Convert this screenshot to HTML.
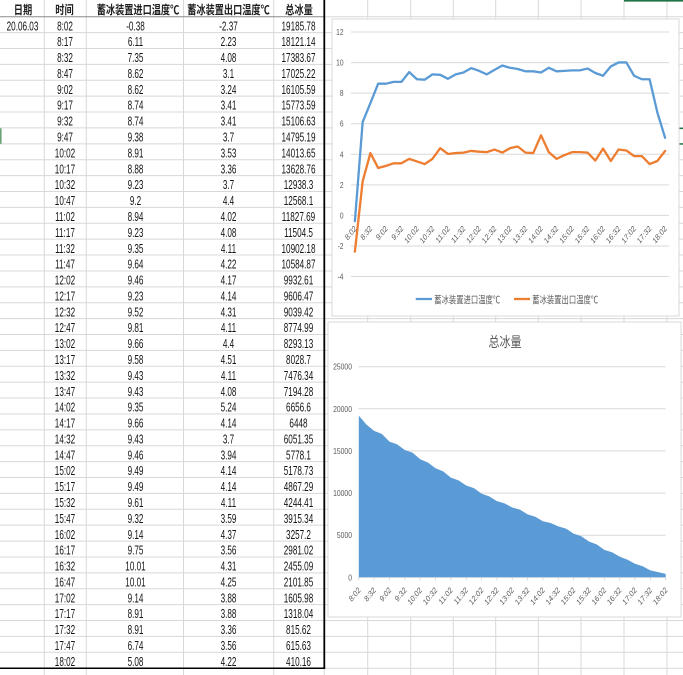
<!DOCTYPE html>
<html><head><meta charset="utf-8"><style>
html,body{margin:0;padding:0;background:#fff;}
svg{display:block;}
.t{font-family:"Liberation Sans","Noto Sans CJK SC",sans-serif;font-size:12.5px;fill:#141414;}
.h{font-family:"Liberation Sans","Noto Sans CJK SC",sans-serif;font-size:12px;font-weight:700;fill:#1e1e1e;}
.ax{font-family:"Liberation Sans",sans-serif;font-size:8.5px;fill:#595959;}
.xl{font-family:"Liberation Sans",sans-serif;font-size:8.5px;fill:#595959;}
.lg{font-family:"Liberation Sans","Noto Sans CJK SC",sans-serif;font-size:10px;fill:#595959;}
.ti{font-family:"Liberation Sans","Noto Sans CJK SC",sans-serif;font-size:14.5px;fill:#595959;}
</style></head><body>
<svg width="683" height="675" viewBox="0 0 683 675" xmlns="http://www.w3.org/2000/svg">
<rect width="683" height="675" fill="#fff"/>
<g stroke="#d8d8d8" stroke-width="1" fill="none">
<path d="M0 32.59H683M0 48.48H683M0 64.37H683M0 80.26H683M0 96.15H683M0 112.04H683M0 127.93H683M0 143.82H683M0 159.71H683M0 175.6H683M0 191.49H683M0 207.38H683M0 223.27H683M0 239.16H683M0 255.05H683M0 270.94H683M0 286.83H683M0 302.72H683M0 318.61H683M0 334.5H683M0 350.39H683M0 366.28H683M0 382.17H683M0 398.06H683M0 413.95H683M0 429.84H683M0 445.73H683M0 461.62H683M0 477.51H683M0 493.4H683M0 509.29H683M0 525.18H683M0 541.07H683M0 556.96H683M0 572.85H683M0 588.74H683M0 604.63H683M0 620.52H683M0 636.41H683M0 652.3H683M324 668.19H683M324 16.7H683"/>
<path d="M44.3 0V675M86.3 0V675M183.5 0V675M273.7 0V675M324.3 669V675M367.7 0V675M410.7 0V675M453.3 0V675M495.7 0V675M538.3 0V675M581 0V675M624 0V675M667 0V675"/>
</g>
<path d="M0 16.7H324" stroke="#8a8a8a" stroke-width="1"/>
<path d="M324.3 0V669" stroke="#000" stroke-width="1.8"/>
<path d="M0 668.3H325" stroke="#000" stroke-width="1.5"/>
<rect x="0" y="128.3" width="1.6" height="15.5" fill="#6aa57a"/>
<rect x="624" y="0" width="59" height="1.6" fill="#217346"/>
<rect x="679" y="127.6" width="4" height="1.5" fill="#217346"/>
<rect x="679" y="143.2" width="4" height="1.5" fill="#217346"/>

<g class="h" text-anchor="middle">
<text transform="translate(23,14) scale(0.77,1)">日期</text>
<text transform="translate(64.5,14) scale(0.77,1)">时间</text>
<text transform="translate(138,14) scale(0.765,1)">蓄冰装置进口温度℃</text>
<text transform="translate(228.5,14) scale(0.765,1)">蓄冰装置出口温度℃</text>
<text transform="translate(299,14) scale(0.77,1)">总冰量</text>
</g>

<text class="t" text-anchor="middle" transform="translate(22.5,0) scale(0.652,1)"><tspan x="0" y="30.3">20.06.03</tspan></text>
<text class="t" text-anchor="middle" transform="translate(65,0) scale(0.652,1)"><tspan x="0" y="30.3">8:02</tspan><tspan x="0" y="46.2">8:17</tspan><tspan x="0" y="62.1">8:32</tspan><tspan x="0" y="78">8:47</tspan><tspan x="0" y="93.9">9:02</tspan><tspan x="0" y="109.7">9:17</tspan><tspan x="0" y="125.6">9:32</tspan><tspan x="0" y="141.5">9:47</tspan><tspan x="0" y="157.4">10:02</tspan><tspan x="0" y="173.3">10:17</tspan><tspan x="0" y="189.2">10:32</tspan><tspan x="0" y="205.1">10:47</tspan><tspan x="0" y="221">11:02</tspan><tspan x="0" y="236.9">11:17</tspan><tspan x="0" y="252.8">11:32</tspan><tspan x="0" y="268.6">11:47</tspan><tspan x="0" y="284.5">12:02</tspan><tspan x="0" y="300.4">12:17</tspan><tspan x="0" y="316.3">12:32</tspan><tspan x="0" y="332.2">12:47</tspan><tspan x="0" y="348.1">13:02</tspan><tspan x="0" y="364">13:17</tspan><tspan x="0" y="379.9">13:32</tspan><tspan x="0" y="395.8">13:47</tspan><tspan x="0" y="411.7">14:02</tspan><tspan x="0" y="427.5">14:17</tspan><tspan x="0" y="443.4">14:32</tspan><tspan x="0" y="459.3">14:47</tspan><tspan x="0" y="475.2">15:02</tspan><tspan x="0" y="491.1">15:17</tspan><tspan x="0" y="507">15:32</tspan><tspan x="0" y="522.9">15:47</tspan><tspan x="0" y="538.8">16:02</tspan><tspan x="0" y="554.7">16:17</tspan><tspan x="0" y="570.6">16:32</tspan><tspan x="0" y="586.4">16:47</tspan><tspan x="0" y="602.3">17:02</tspan><tspan x="0" y="618.2">17:17</tspan><tspan x="0" y="634.1">17:32</tspan><tspan x="0" y="650">17:47</tspan><tspan x="0" y="665.9">18:02</tspan></text>
<text class="t" text-anchor="middle" transform="translate(135.5,0) scale(0.652,1)"><tspan x="0" y="30.3">-0.38</tspan><tspan x="0" y="46.2">6.11</tspan><tspan x="0" y="62.1">7.35</tspan><tspan x="0" y="78">8.62</tspan><tspan x="0" y="93.9">8.62</tspan><tspan x="0" y="109.7">8.74</tspan><tspan x="0" y="125.6">8.74</tspan><tspan x="0" y="141.5">9.38</tspan><tspan x="0" y="157.4">8.91</tspan><tspan x="0" y="173.3">8.88</tspan><tspan x="0" y="189.2">9.23</tspan><tspan x="0" y="205.1">9.2</tspan><tspan x="0" y="221">8.94</tspan><tspan x="0" y="236.9">9.23</tspan><tspan x="0" y="252.8">9.35</tspan><tspan x="0" y="268.6">9.64</tspan><tspan x="0" y="284.5">9.46</tspan><tspan x="0" y="300.4">9.23</tspan><tspan x="0" y="316.3">9.52</tspan><tspan x="0" y="332.2">9.81</tspan><tspan x="0" y="348.1">9.66</tspan><tspan x="0" y="364">9.58</tspan><tspan x="0" y="379.9">9.43</tspan><tspan x="0" y="395.8">9.43</tspan><tspan x="0" y="411.7">9.35</tspan><tspan x="0" y="427.5">9.66</tspan><tspan x="0" y="443.4">9.43</tspan><tspan x="0" y="459.3">9.46</tspan><tspan x="0" y="475.2">9.49</tspan><tspan x="0" y="491.1">9.49</tspan><tspan x="0" y="507">9.61</tspan><tspan x="0" y="522.9">9.32</tspan><tspan x="0" y="538.8">9.14</tspan><tspan x="0" y="554.7">9.75</tspan><tspan x="0" y="570.6">10.01</tspan><tspan x="0" y="586.4">10.01</tspan><tspan x="0" y="602.3">9.14</tspan><tspan x="0" y="618.2">8.91</tspan><tspan x="0" y="634.1">8.91</tspan><tspan x="0" y="650">6.74</tspan><tspan x="0" y="665.9">5.08</tspan></text>
<text class="t" text-anchor="middle" transform="translate(228.5,0) scale(0.652,1)"><tspan x="0" y="30.3">-2.37</tspan><tspan x="0" y="46.2">2.23</tspan><tspan x="0" y="62.1">4.08</tspan><tspan x="0" y="78">3.1</tspan><tspan x="0" y="93.9">3.24</tspan><tspan x="0" y="109.7">3.41</tspan><tspan x="0" y="125.6">3.41</tspan><tspan x="0" y="141.5">3.7</tspan><tspan x="0" y="157.4">3.53</tspan><tspan x="0" y="173.3">3.36</tspan><tspan x="0" y="189.2">3.7</tspan><tspan x="0" y="205.1">4.4</tspan><tspan x="0" y="221">4.02</tspan><tspan x="0" y="236.9">4.08</tspan><tspan x="0" y="252.8">4.11</tspan><tspan x="0" y="268.6">4.22</tspan><tspan x="0" y="284.5">4.17</tspan><tspan x="0" y="300.4">4.14</tspan><tspan x="0" y="316.3">4.31</tspan><tspan x="0" y="332.2">4.11</tspan><tspan x="0" y="348.1">4.4</tspan><tspan x="0" y="364">4.51</tspan><tspan x="0" y="379.9">4.11</tspan><tspan x="0" y="395.8">4.08</tspan><tspan x="0" y="411.7">5.24</tspan><tspan x="0" y="427.5">4.14</tspan><tspan x="0" y="443.4">3.7</tspan><tspan x="0" y="459.3">3.94</tspan><tspan x="0" y="475.2">4.14</tspan><tspan x="0" y="491.1">4.14</tspan><tspan x="0" y="507">4.11</tspan><tspan x="0" y="522.9">3.59</tspan><tspan x="0" y="538.8">4.37</tspan><tspan x="0" y="554.7">3.56</tspan><tspan x="0" y="570.6">4.31</tspan><tspan x="0" y="586.4">4.25</tspan><tspan x="0" y="602.3">3.88</tspan><tspan x="0" y="618.2">3.88</tspan><tspan x="0" y="634.1">3.36</tspan><tspan x="0" y="650">3.56</tspan><tspan x="0" y="665.9">4.22</tspan></text>
<text class="t" text-anchor="middle" transform="translate(298.5,0) scale(0.652,1)"><tspan x="0" y="30.3">19185.78</tspan><tspan x="0" y="46.2">18121.14</tspan><tspan x="0" y="62.1">17383.67</tspan><tspan x="0" y="78">17025.22</tspan><tspan x="0" y="93.9">16105.59</tspan><tspan x="0" y="109.7">15773.59</tspan><tspan x="0" y="125.6">15106.63</tspan><tspan x="0" y="141.5">14795.19</tspan><tspan x="0" y="157.4">14013.65</tspan><tspan x="0" y="173.3">13628.76</tspan><tspan x="0" y="189.2">12938.3</tspan><tspan x="0" y="205.1">12568.1</tspan><tspan x="0" y="221">11827.69</tspan><tspan x="0" y="236.9">11504.5</tspan><tspan x="0" y="252.8">10902.18</tspan><tspan x="0" y="268.6">10584.87</tspan><tspan x="0" y="284.5">9932.61</tspan><tspan x="0" y="300.4">9606.47</tspan><tspan x="0" y="316.3">9039.42</tspan><tspan x="0" y="332.2">8774.99</tspan><tspan x="0" y="348.1">8293.13</tspan><tspan x="0" y="364">8028.7</tspan><tspan x="0" y="379.9">7476.34</tspan><tspan x="0" y="395.8">7194.28</tspan><tspan x="0" y="411.7">6656.6</tspan><tspan x="0" y="427.5">6448</tspan><tspan x="0" y="443.4">6051.35</tspan><tspan x="0" y="459.3">5778.1</tspan><tspan x="0" y="475.2">5178.73</tspan><tspan x="0" y="491.1">4867.29</tspan><tspan x="0" y="507">4244.41</tspan><tspan x="0" y="522.9">3915.34</tspan><tspan x="0" y="538.8">3257.2</tspan><tspan x="0" y="554.7">2981.02</tspan><tspan x="0" y="570.6">2455.09</tspan><tspan x="0" y="586.4">2101.85</tspan><tspan x="0" y="602.3">1605.98</tspan><tspan x="0" y="618.2">1318.04</tspan><tspan x="0" y="634.1">815.62</tspan><tspan x="0" y="650">615.63</tspan><tspan x="0" y="665.9">410.16</tspan></text>

<!-- Chart 1 -->
<rect x="332" y="19" width="347" height="297" fill="#fff" stroke="#d9d9d9" stroke-width="1"/>
<g stroke="#d9d9d9" stroke-width="1">
<path d="M351 32.04H669M351 62.6H669M351 93.16H669M351 123.72H669M351 154.28H669M351 184.84H669M351 215.4H669M351 245.96H669M351 276.52H669"/>
</g>
<text class="ax" text-anchor="end" transform="translate(343.5,0) scale(0.78,1)"><tspan x="0" y="35">12</tspan><tspan x="0" y="65.6">10</tspan><tspan x="0" y="96.2">8</tspan><tspan x="0" y="126.7">6</tspan><tspan x="0" y="157.3">4</tspan><tspan x="0" y="187.8">2</tspan><tspan x="0" y="218.4">0</tspan><tspan x="0" y="249">-2</tspan><tspan x="0" y="279.5">-4</tspan></text>
<polyline fill="none" stroke="#5B9BD5" stroke-width="2.3" stroke-linejoin="round" stroke-linecap="round" points="354.9,221.21 362.66,122.04 370.41,103.09 378.17,83.69 385.92,83.69 393.68,81.85 401.43,81.85 409.19,72.07 416.94,79.26 424.7,79.71 432.45,74.37 440.21,74.82 447.96,78.8 455.72,74.37 463.47,72.53 471.23,68.1 478.98,70.85 486.74,74.37 494.49,69.93 502.25,65.5 510,67.8 517.76,69.02 525.51,71.31 533.27,71.31 541.02,72.53 548.78,67.8 556.53,71.31 564.29,70.85 572.04,70.39 579.8,70.39 587.55,68.56 595.31,72.99 603.06,75.74 610.82,66.42 618.57,62.45 626.33,62.45 634.08,75.74 641.84,79.26 649.59,79.26 657.35,112.41 665.1,137.78"/>
<polyline fill="none" stroke="#ED7D31" stroke-width="2.3" stroke-linejoin="round" stroke-linecap="round" points="354.9,251.61 362.66,181.33 370.41,153.06 378.17,168.03 385.92,165.89 393.68,163.3 401.43,163.3 409.19,158.86 416.94,161.46 424.7,164.06 432.45,158.86 440.21,148.17 447.96,153.97 455.72,153.06 463.47,152.6 471.23,150.92 478.98,151.68 486.74,152.14 494.49,149.54 502.25,152.6 510,148.17 517.76,146.49 525.51,152.6 533.27,153.06 541.02,135.33 548.78,152.14 556.53,158.86 564.29,155.2 572.04,152.14 579.8,152.14 587.55,152.6 595.31,160.54 603.06,148.63 610.82,161 618.57,149.54 626.33,150.46 634.08,156.11 641.84,156.11 649.59,164.06 657.35,161 665.1,150.92"/>
<g class="xl" text-anchor="end">
<text transform="translate(355.4,227) scale(0.8,1) rotate(-45)" dy="0.35em">8:02</text>
<text transform="translate(370.91,227) scale(0.8,1) rotate(-45)" dy="0.35em">8:32</text>
<text transform="translate(386.42,227) scale(0.8,1) rotate(-45)" dy="0.35em">9:02</text>
<text transform="translate(401.93,227) scale(0.8,1) rotate(-45)" dy="0.35em">9:32</text>
<text transform="translate(417.44,227) scale(0.8,1) rotate(-45)" dy="0.35em">10:02</text>
<text transform="translate(432.95,227) scale(0.8,1) rotate(-45)" dy="0.35em">10:32</text>
<text transform="translate(448.46,227) scale(0.8,1) rotate(-45)" dy="0.35em">11:02</text>
<text transform="translate(463.97,227) scale(0.8,1) rotate(-45)" dy="0.35em">11:32</text>
<text transform="translate(479.48,227) scale(0.8,1) rotate(-45)" dy="0.35em">12:02</text>
<text transform="translate(494.99,227) scale(0.8,1) rotate(-45)" dy="0.35em">12:32</text>
<text transform="translate(510.5,227) scale(0.8,1) rotate(-45)" dy="0.35em">13:02</text>
<text transform="translate(526.01,227) scale(0.8,1) rotate(-45)" dy="0.35em">13:32</text>
<text transform="translate(541.52,227) scale(0.8,1) rotate(-45)" dy="0.35em">14:02</text>
<text transform="translate(557.03,227) scale(0.8,1) rotate(-45)" dy="0.35em">14:32</text>
<text transform="translate(572.54,227) scale(0.8,1) rotate(-45)" dy="0.35em">15:02</text>
<text transform="translate(588.05,227) scale(0.8,1) rotate(-45)" dy="0.35em">15:32</text>
<text transform="translate(603.56,227) scale(0.8,1) rotate(-45)" dy="0.35em">16:02</text>
<text transform="translate(619.07,227) scale(0.8,1) rotate(-45)" dy="0.35em">16:32</text>
<text transform="translate(634.58,227) scale(0.8,1) rotate(-45)" dy="0.35em">17:02</text>
<text transform="translate(650.09,227) scale(0.8,1) rotate(-45)" dy="0.35em">17:32</text>
<text transform="translate(665.6,227) scale(0.8,1) rotate(-45)" dy="0.35em">18:02</text>
</g>
<path d="M415.7 299H432" stroke="#5B9BD5" stroke-width="2.3"/>
<text class="lg" transform="translate(434.3,303.3) scale(0.733,1)">蓄冰装置进口温度℃</text>
<path d="M514 299H530" stroke="#ED7D31" stroke-width="2.3"/>
<text class="lg" transform="translate(532.3,303.3) scale(0.733,1)">蓄冰装置出口温度℃</text>

<!-- Chart 2 -->
<rect x="328" y="322" width="353" height="295" fill="#fff" stroke="#d9d9d9" stroke-width="1"/>
<text class="ti" text-anchor="middle" transform="translate(505,347) scale(0.76,1)">总冰量</text>
<g stroke="#d9d9d9" stroke-width="1">
<path d="M358.5 366.7H665.5M358.5 408.8H665.5M358.5 450.9H665.5M358.5 493.1H665.5M358.5 535.2H665.5M358.5 577.3H665.5"/>
</g>
<text class="ax" text-anchor="end" transform="translate(352,0) scale(0.8,1)"><tspan x="0" y="369.7">25000</tspan><tspan x="0" y="411.8">20000</tspan><tspan x="0" y="453.9">15000</tspan><tspan x="0" y="496.1">10000</tspan><tspan x="0" y="538.2">5000</tspan><tspan x="0" y="580.3">0</tspan></text>
<polygon fill="#5B9BD5" points="358.8,577.3 358.8,415.68 366.47,424.65 374.15,430.86 381.82,433.88 389.49,441.63 397.16,444.42 404.84,450.04 412.51,452.67 420.18,459.25 427.85,462.49 435.53,468.31 443.2,471.43 450.87,477.66 458.54,480.39 466.22,485.46 473.89,488.13 481.56,493.63 489.23,496.38 496.91,501.15 504.58,503.38 512.25,507.44 519.92,509.67 527.6,514.32 535.27,516.7 542.94,521.22 550.61,522.98 558.29,526.32 565.96,528.63 573.63,533.67 581.3,536.3 588.98,541.55 596.65,544.32 604.32,549.86 611.99,552.19 619.67,556.62 627.34,559.59 635.01,563.77 642.68,566.2 650.36,570.43 658.03,572.11 665.7,573.84 665.7,577.3"/>
<g stroke="#d0d0d0" stroke-width="0.8">
<path d="M358.8 577.3v3M374.15 577.3v3M389.49 577.3v3M404.84 577.3v3M420.18 577.3v3M435.53 577.3v3M450.87 577.3v3M466.22 577.3v3M481.56 577.3v3M496.91 577.3v3M512.25 577.3v3M527.6 577.3v3M542.94 577.3v3M558.29 577.3v3M573.63 577.3v3M588.98 577.3v3M604.32 577.3v3M619.67 577.3v3M635.01 577.3v3M650.36 577.3v3M665.7 577.3v3"/>
</g>
<g class="xl" text-anchor="end">
<text transform="translate(359.3,588.5) scale(0.8,1) rotate(-45)" dy="0.35em">8:02</text>
<text transform="translate(374.65,588.5) scale(0.8,1) rotate(-45)" dy="0.35em">8:32</text>
<text transform="translate(389.99,588.5) scale(0.8,1) rotate(-45)" dy="0.35em">9:02</text>
<text transform="translate(405.34,588.5) scale(0.8,1) rotate(-45)" dy="0.35em">9:32</text>
<text transform="translate(420.68,588.5) scale(0.8,1) rotate(-45)" dy="0.35em">10:02</text>
<text transform="translate(436.03,588.5) scale(0.8,1) rotate(-45)" dy="0.35em">10:32</text>
<text transform="translate(451.37,588.5) scale(0.8,1) rotate(-45)" dy="0.35em">11:02</text>
<text transform="translate(466.72,588.5) scale(0.8,1) rotate(-45)" dy="0.35em">11:32</text>
<text transform="translate(482.06,588.5) scale(0.8,1) rotate(-45)" dy="0.35em">12:02</text>
<text transform="translate(497.41,588.5) scale(0.8,1) rotate(-45)" dy="0.35em">12:32</text>
<text transform="translate(512.75,588.5) scale(0.8,1) rotate(-45)" dy="0.35em">13:02</text>
<text transform="translate(528.1,588.5) scale(0.8,1) rotate(-45)" dy="0.35em">13:32</text>
<text transform="translate(543.44,588.5) scale(0.8,1) rotate(-45)" dy="0.35em">14:02</text>
<text transform="translate(558.79,588.5) scale(0.8,1) rotate(-45)" dy="0.35em">14:32</text>
<text transform="translate(574.13,588.5) scale(0.8,1) rotate(-45)" dy="0.35em">15:02</text>
<text transform="translate(589.48,588.5) scale(0.8,1) rotate(-45)" dy="0.35em">15:32</text>
<text transform="translate(604.82,588.5) scale(0.8,1) rotate(-45)" dy="0.35em">16:02</text>
<text transform="translate(620.17,588.5) scale(0.8,1) rotate(-45)" dy="0.35em">16:32</text>
<text transform="translate(635.51,588.5) scale(0.8,1) rotate(-45)" dy="0.35em">17:02</text>
<text transform="translate(650.86,588.5) scale(0.8,1) rotate(-45)" dy="0.35em">17:32</text>
<text transform="translate(666.2,588.5) scale(0.8,1) rotate(-45)" dy="0.35em">18:02</text>
</g>
</svg>
</body></html>
